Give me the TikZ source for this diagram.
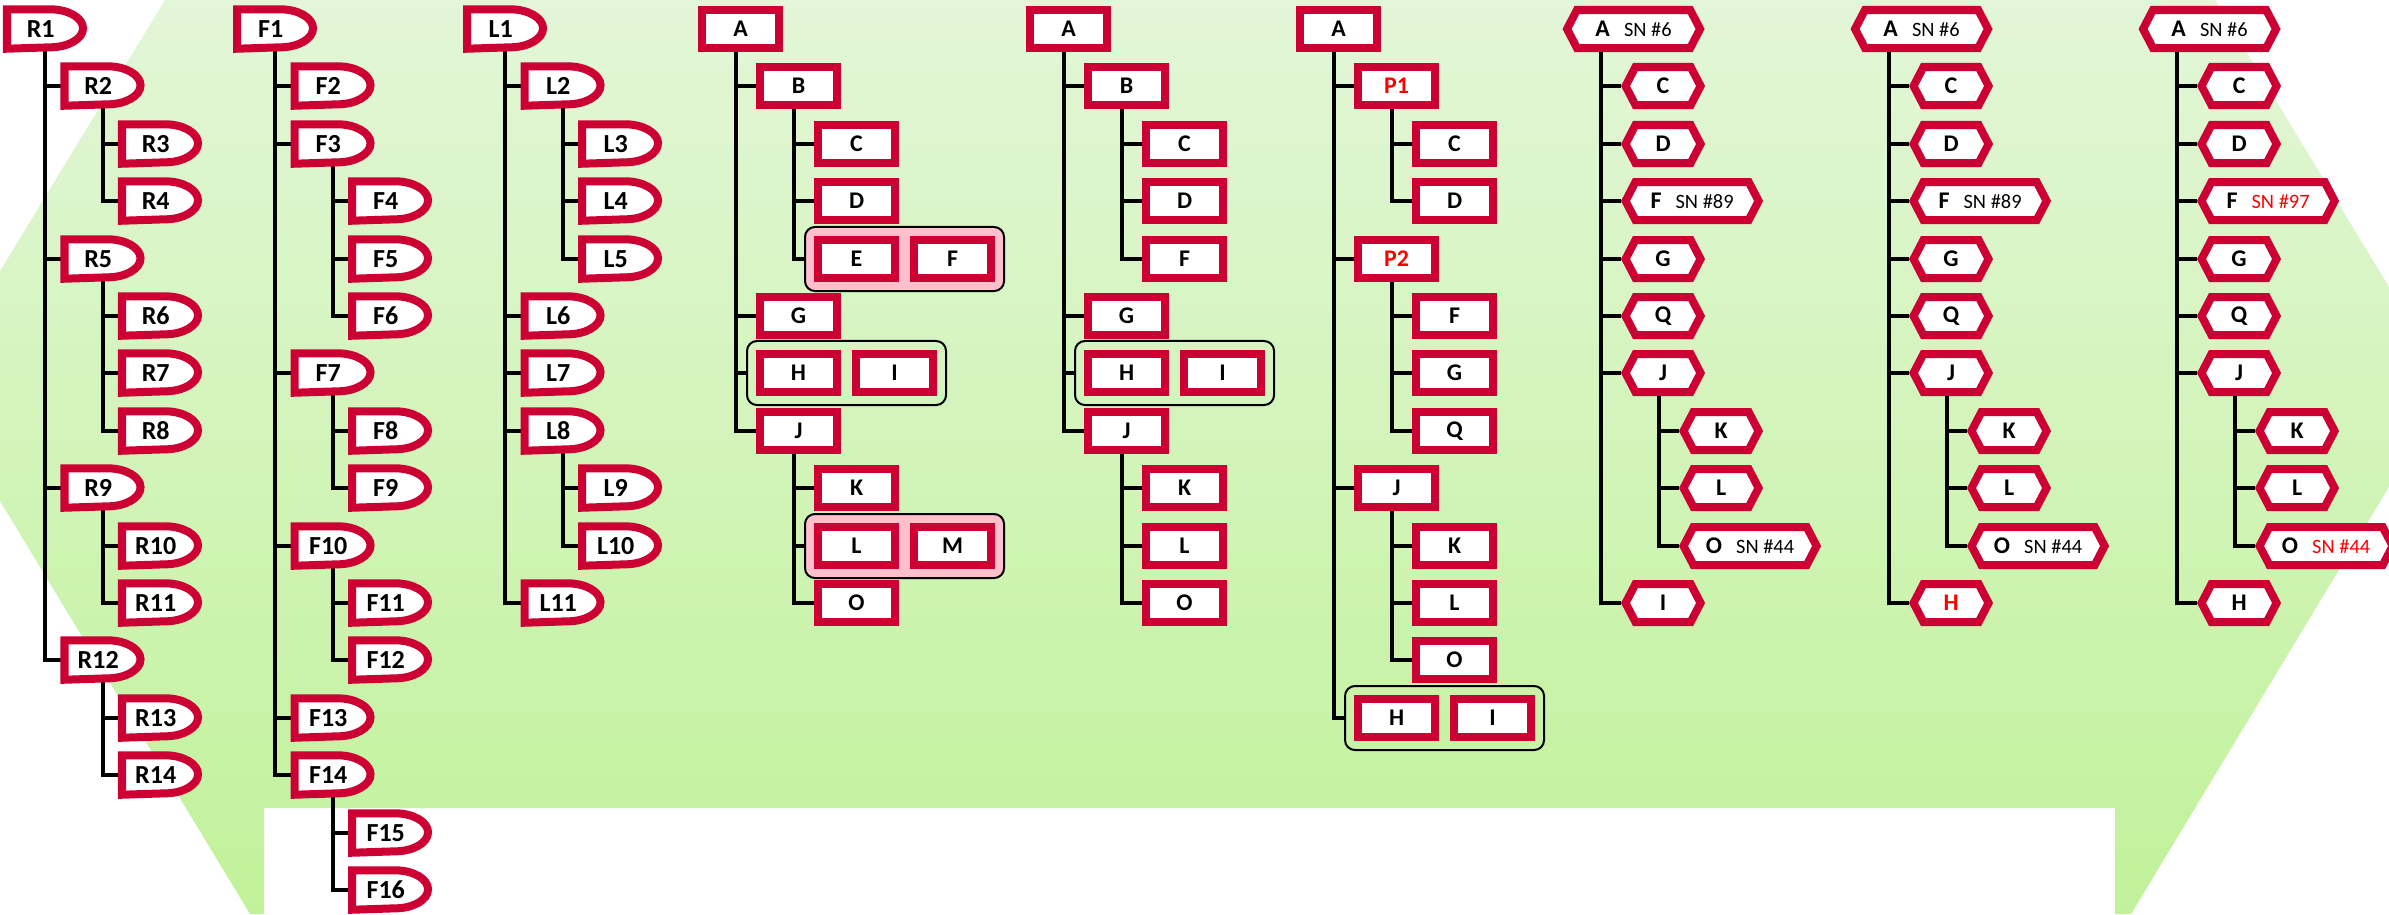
\documentclass[tikz,border=0pt]{standalone}
\usepackage{fontspec}
\setmainfont{Carlito}
\usetikzlibrary{fit, backgrounds, shapes.symbols}
\definecolor{Crim}{HTML}{CC0033}
\definecolor{HotRed}{HTML}{FF0000}
\definecolor{GrpPink}{HTML}{FFC0CB}
\definecolor{GreenTop}{HTML}{E3F6D8}
\definecolor{GreenBot}{HTML}{C1F29A}
\tikzset{
  dnode/.style={anchor=west, inner sep=0pt, minimum width=0.66cm, minimum height=0.38cm,
    font=\bfseries\fontsize{7.4}{8}\selectfont},
  dframe/.style={draw=Crim, line width=0.08cm, fill=white},
  rnode/.style={anchor=west, draw=Crim, line width=0.08cm, fill=white, inner sep=0pt,
    minimum width=0.77cm, minimum height=0.38cm, font=\bfseries\fontsize{6.8}{8}\selectfont},
  hnode/.style={signal, signal to=west and east, signal pointer angle=125,
    anchor=west, draw=Crim, line width=0.08cm, fill=white, inner sep=0pt,
    minimum width=0.75cm, minimum height=0.38cm, font=\bfseries\fontsize{6.8}{8}\selectfont},
  hwide/.style={hnode, minimum width=1.33cm},
  grp/.style={draw=black, line width=0.02cm, rounded corners=0.1cm, inner sep=0.09cm},
  grpfill/.style={grp, fill=GrpPink},
  tline/.style={line width=0.04cm, draw=black},
}
\newcommand{\snum}[2][black]{\hspace{4pt}{\mdseries\fontsize{5.8}{7}\selectfont\textcolor{#1}{SN~\##2}}}

\begin{document}
\begin{tikzpicture}[x=0.01cm, y=0.01cm]
  \useasboundingbox (0,0) rectangle (2389,-914);

  % D-shaped trees
  \foreach \n/\x/\y in {R1/7/29, R2/64.5/86, R3/122/144, R4/122/201, R5/64.5/259,
      R6/122/316, R7/122/373, R8/122/431, R9/64.5/488, R10/122/546, R11/122/603,
      R12/64.5/660, R13/122/718, R14/122/775,
      F1/237/29, F2/294.5/86, F3/294.5/144, F4/352/201, F5/352/259, F6/352/316,
      F7/294.5/373, F8/352/431, F9/352/488, F10/294.5/546, F11/352/603, F12/352/660,
      F13/294.5/718, F14/294.5/775, F15/352/833, F16/352/890,
      L1/467/29, L2/524.5/86, L3/582/144, L4/582/201, L5/582/259, L6/524.5/316,
      L7/524.5/373, L8/524.5/431, L9/582/488, L10/582/546, L11/524.5/603}
    \node[dnode] (\n) at (\x,-\y) {\n};

  % boxed trees
  \foreach \n/\t/\x/\y in {aA/A/698/29, aB/B/756/86, aC/C/814/144, aD/D/814/201,
      aE/E/814/259, aF/F/910/259, aG/G/756/316, aH/H/756/373, aI/I/852/373,
      aJ/J/756/431, aK/K/814/488, aL/L/814/546, aM/M/910/546, aO/O/814/603,
      bA/A/1026/29, bB/B/1084/86, bC/C/1142/144, bD/D/1142/201, bF/F/1142/259,
      bG/G/1084/316, bH/H/1084/373, bI/I/1180/373, bJ/J/1084/431, bK/K/1142/488,
      bL/L/1142/546, bO/O/1142/603,
      cA/A/1296/29, cP1/{\textcolor{HotRed}{P1}}/1354/86, cC/C/1412/144,
      cD/D/1412/201, cP2/{\textcolor{HotRed}{P2}}/1354/259, cF/F/1412/316,
      cG/G/1412/373, cQ/Q/1412/431, cJ/J/1354/488, cK/K/1412/546, cL/L/1412/603,
      cO/O/1412/660, cH/H/1354/718, cI/I/1450/718}
    \node[rnode] (\n) at (\x,-\y) {\t};

  % hexagon trees
  \foreach \n/\t/\x/\y in {dC/C/1621/86, dD/D/1621/144, dG/G/1621/259,
      dQ/Q/1621/316, dJ/J/1621/373, dK/K/1679/431, dL/L/1679/488, dI/I/1621/603,
      eC/C/1909/86, eD/D/1909/144, eG/G/1909/259, eQ/Q/1909/316, eJ/J/1909/373,
      eK/K/1967/431, eL/L/1967/488, eH/{\textcolor{HotRed}{H}}/1909/603,
      fC/C/2197/86, fD/D/2197/144, fG/G/2197/259, fQ/Q/2197/316, fJ/J/2197/373,
      fK/K/2255/431, fL/L/2255/488, fH/H/2197/603}
    \node[hnode] (\n) at (\x,-\y) {\t};
  \node[hwide] (dA) at (1562.5,-29) {A\snum{6}};
  \node[hwide] (dF) at (1621,-201) {F\snum{89}};
  \node[hwide] (dO) at (1679,-546) {O\snum{44}};
  \node[hwide] (eA) at (1850.5,-29) {A\snum{6}};
  \node[hwide] (eF) at (1909,-201) {F\snum{89}};
  \node[hwide] (eO) at (1967,-546) {O\snum{44}};
  \node[hwide] (fA) at (2138.5,-29) {A\snum{6}};
  \node[hwide] (fF) at (2197,-201) {F\snum[HotRed]{97}};
  \node[hwide] (fO) at (2255,-546) {O\snum[HotRed]{44}};

  \begin{scope}[on background layer]
    \path[top color=GreenTop, bottom color=GreenBot] (165,0) -- (2215,0)
      -- (2389,-287) -- (2389,-487) -- (2131,-914) -- (2115,-914) -- (2115,-808)
      -- (264,-808) -- (264,-914) -- (250,-914) -- (0,-501) -- (0,-271) -- cycle;

    % grouped siblings
    \node[grpfill, fit=(aE)(aF)] (aEF) {};
    \node[grpfill, fit=(aL)(aM)] (aLM) {};
    \node[grp, fit=(aH)(aI)] (aHI) {};
    \node[grp, fit=(bH)(bI)] (bHI) {};
    \node[grp, fit=(cH)(cI)] (cHI) {};

    \foreach \p/\c in {R1/R2, R2/R3, R2/R4, R1/R5, R5/R6, R5/R7, R5/R8, R1/R9,
        R9/R10, R9/R11, R1/R12, R12/R13, R12/R14,
        F1/F2, F1/F3, F3/F4, F3/F5, F3/F6, F1/F7, F7/F8, F7/F9, F1/F10, F10/F11,
        F10/F12, F1/F13, F1/F14, F14/F15, F14/F16,
        L1/L2, L2/L3, L2/L4, L2/L5, L1/L6, L1/L7, L1/L8, L8/L9, L8/L10, L1/L11,
        aA/aB, aB/aC, aB/aD, aB/aEF, aA/aG, aA/aHI, aA/aJ, aJ/aK, aJ/aLM, aJ/aO,
        bA/bB, bB/bC, bB/bD, bB/bF, bA/bG, bA/bHI, bA/bJ, bJ/bK, bJ/bL, bJ/bO,
        cA/cP1, cP1/cC, cP1/cD, cA/cP2, cP2/cF, cP2/cG, cP2/cQ, cA/cJ, cJ/cK,
        cJ/cL, cJ/cO, cA/cHI,
        dA/dC, dA/dD, dA/dF, dA/dG, dA/dQ, dA/dJ, dJ/dK, dJ/dL, dJ/dO, dA/dI,
        eA/eC, eA/eD, eA/eF, eA/eG, eA/eQ, eA/eJ, eJ/eK, eJ/eL, eJ/eO, eA/eH,
        fA/fC, fA/fD, fA/fF, fA/fG, fA/fQ, fA/fJ, fJ/fK, fJ/fL, fJ/fO, fA/fH}
      \draw[tline] ([xshift=0.38cm]\p.west) |- (\c.west);

    % D-shaped frames
    \foreach \n in {R1,R2,R3,R4,R5,R6,R7,R8,R9,R10,R11,R12,R13,R14,
        F1,F2,F3,F4,F5,F6,F7,F8,F9,F10,F11,F12,F13,F14,F15,F16,
        L1,L2,L3,L4,L5,L6,L7,L8,L9,L10,L11}
      \draw[dframe] (\n.south west) -- (\n.north west) -- ++(0.43cm,0)
        arc[start angle=90, end angle=-90, x radius=0.33cm, y radius=0.19cm] -- cycle;
  \end{scope}
\end{tikzpicture}
\end{document}
